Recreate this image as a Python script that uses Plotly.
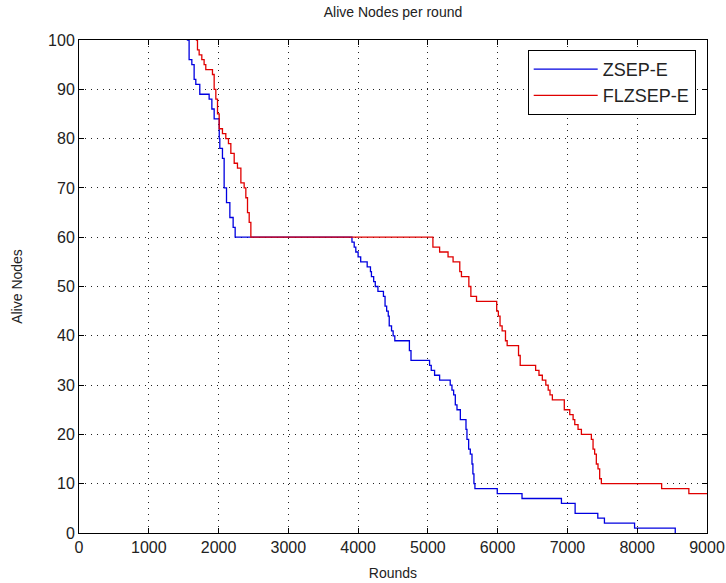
import plotly.graph_objects as go

# ZSEP-E (blue) step data: round at which alive count changes, new alive count
zsep_rounds = [1545, 1578, 1617, 1650, 1674, 1731, 1865, 1904, 1937, 2010, 2018, 2056, 2080,
               2114, 2162, 2209, 2238, 3912, 3944, 3967, 4000, 4037, 4130, 4177, 4191, 4223,
               4246, 4284, 4363, 4386, 4409, 4432, 4446, 4479, 4502, 4526, 4735, 4758, 5024,
               5048, 5096, 5168, 5216, 5320, 5345, 5369, 5393, 5417, 5465, 5546, 5560, 5584,
               5608, 5632, 5645, 5660, 5674, 5994, 6349, 6914, 7110, 7435, 7530, 7962, 8545]
zsep_alive = [100, 96, 95, 92, 91, 89, 88, 86, 84, 80, 78, 76, 70,
              67, 64, 62, 60, 59, 58, 57, 56, 55, 54, 53, 52, 51,
              50, 49, 48, 46, 45, 44, 42, 41, 40, 39, 37, 35, 34,
              33, 32, 31, 31, 30, 29, 28, 26, 25, 23, 21, 19, 17,
              16, 14, 12, 10, 9, 8, 7, 6, 4, 3, 2, 1, 0]

# FLZSEP-E (red) step data
flz_rounds = [1674, 1698, 1722, 1760, 1793, 1817, 1913, 1937, 1961, 1985, 2009, 2056, 2104,
              2142, 2176, 2224, 2271, 2320, 2367, 2391, 2415, 2439, 2463, 5072, 5168, 5289,
              5361, 5457, 5481, 5587, 5616, 5697, 5986, 6010, 6034, 6064, 6112, 6136, 6299,
              6323, 6544, 6592, 6640, 6690, 6724, 6750, 6784, 6955, 7033, 7081, 7105, 7152,
              7200, 7343, 7367, 7390, 7414, 7438, 7462, 7486, 8350, 8740, 9000]
flz_alive = [100, 98, 97, 96, 95, 94, 93, 90, 88, 85, 82, 81, 80,
             79, 77, 75, 74, 71, 70, 68, 65, 63, 60, 58, 57, 56,
             55, 53, 52, 50, 48, 47, 45, 44, 42, 41, 39, 38, 36,
             34, 33, 32, 31, 30, 29, 28, 27, 25, 24, 23, 22, 21,
             20, 19, 17, 16, 14, 13, 11, 10, 9, 8, 8]

x_ticks = list(range(0, 9001, 1000))
y_ticks = list(range(0, 101, 10))

FONT = "Liberation Sans, Arial, sans-serif"

fig = go.Figure()
fig.add_trace(go.Scatter(x=zsep_rounds, y=zsep_alive, mode="lines", name="ZSEP-E",
                         line=dict(color="#0000e0", width=1.3, shape="hv")))
fig.add_trace(go.Scatter(x=flz_rounds, y=flz_alive, mode="lines", name="FLZSEP-E",
                         line=dict(color="#e00000", width=1.3, shape="hv")))

axis_common = dict(
    showline=True, linecolor="black", linewidth=1, mirror="allticks",
    ticks="inside", ticklen=5, tickcolor="black",
    showgrid=True, gridcolor="#222222", gridwidth=1, griddash="1px,5px",
    zeroline=False, automargin=False,
    tickfont=dict(family=FONT, size=16, color="#222222"),
)

fig.update_xaxes(range=[0, 9000], tickvals=x_ticks, ticktext=[str(v) for v in x_ticks],
                 title=dict(text="Rounds", font=dict(family=FONT, size=14, color="#222222"), standoff=12),
                 **axis_common)
fig.update_yaxes(range=[0, 100], tickvals=y_ticks, ticktext=[str(v) for v in y_ticks],
                 title=dict(text="Alive Nodes", font=dict(family=FONT, size=14, color="#222222"), standoff=22),
                 **axis_common)

fig.update_layout(
    width=726, height=583,
    margin=dict(l=79, r=19, t=40, b=50),
    paper_bgcolor="white", plot_bgcolor="white",
    title=dict(text="Alive Nodes per round", x=0.5, xref="paper", y=1 - 12 / 583, yanchor="middle",
               font=dict(family=FONT, size=14, color="#222222")),
    legend=dict(x=0.982, y=0.98, xanchor="right", yanchor="top",
                bgcolor="white", bordercolor="black", borderwidth=1,
                font=dict(family=FONT, size=18, color="#222222"),
                itemwidth=64, tracegroupgap=0),
    showlegend=True,
)

fig.write_html("out.html")
